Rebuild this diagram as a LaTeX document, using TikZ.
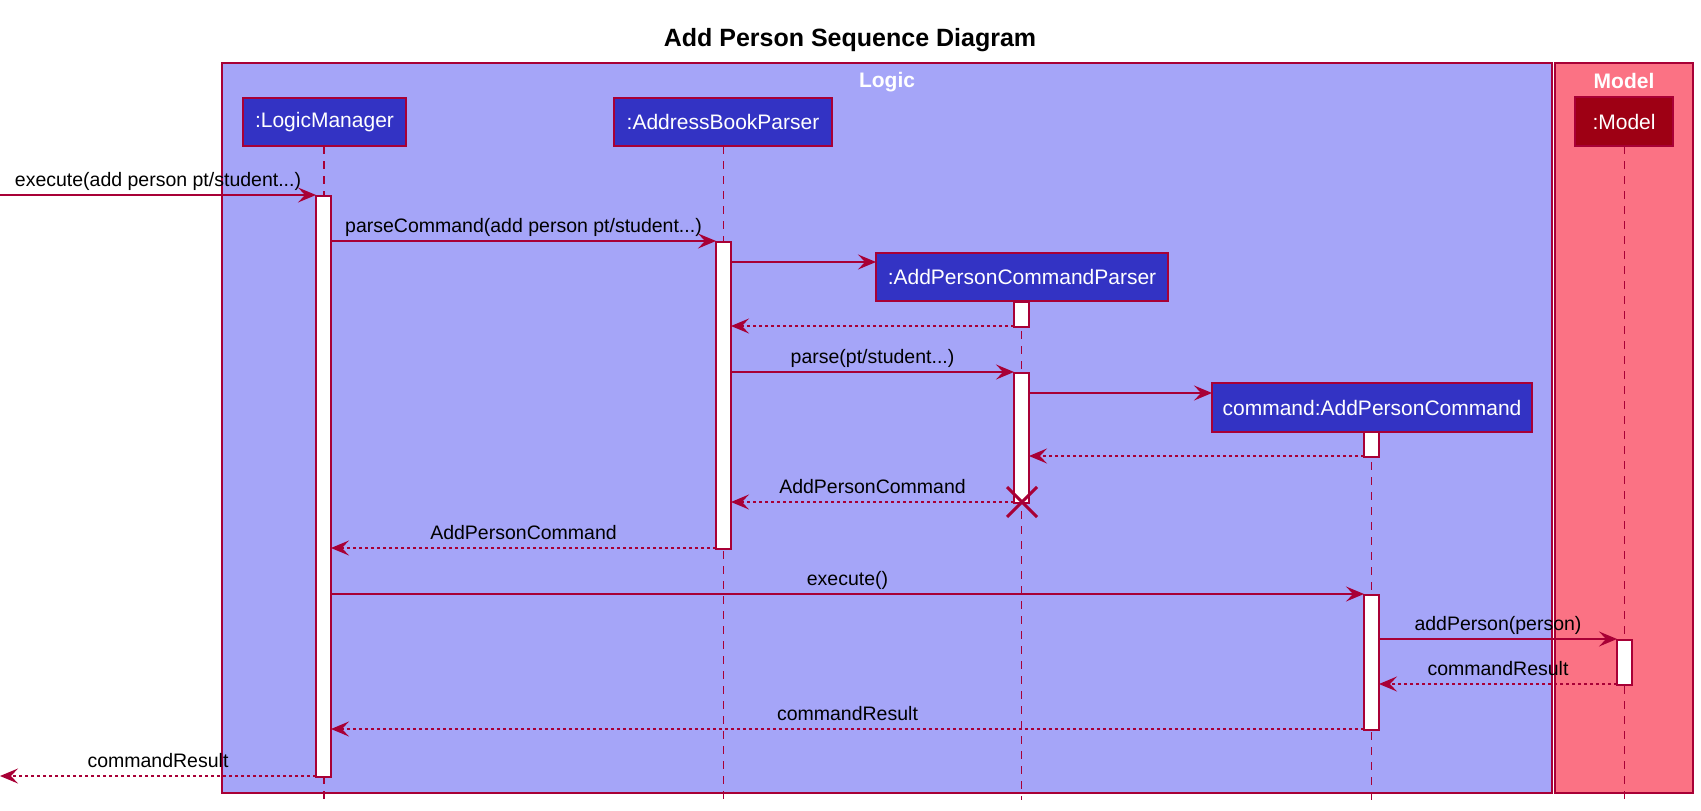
\documentclass[tikz,border=0pt]{standalone}
\usepackage{fontspec}
\setmainfont{Liberation Sans}
\usetikzlibrary{arrows.meta}
\definecolor{brd}{HTML}{A80036}
\definecolor{logicfill}{HTML}{A5A5F8}
\definecolor{modelfill}{HTML}{FB7284}
\definecolor{partfill}{HTML}{3333C4}
\definecolor{modelpart}{HTML}{9E0014}
\begin{document}
\begin{tikzpicture}[x=1pt,y=-1pt,
 groupbox/.style={draw=brd, line width=1.5pt},
 part/.style={draw=brd, line width=2.5pt, fill=partfill, text=white, inner sep=0pt, font=\fontsize{21}{25}\selectfont},
 lifeline/.style={draw=brd, line width=1.5pt, dash pattern=on 7.5pt off 7.5pt},
 actbar/.style={draw=brd, line width=1.5pt, fill=white, inner sep=0pt, minimum width=15pt},
 msg/.style={draw=brd, line width=1.5pt, -{Stealth[length=18pt,width=15pt,inset=7pt]}},
 ret/.style={msg, dash pattern=on 3pt off 3pt},
 lbl/.style={pos=0.5, anchor=base, yshift=9pt, inner sep=0pt, font=\fontsize{19.5}{23}\selectfont, text=black},
 grouptitle/.style={font=\bfseries\fontsize{21}{25}\selectfont, text=white, anchor=base, inner sep=0pt},
 destroy/.style={draw=brd, line width=3pt}
]
\useasboundingbox (0,0) rectangle (1701,811);
% group boxes
\draw[groupbox, fill=logicfill] (222,63) rectangle (1552,793);
\draw[groupbox, fill=modelfill] (1555,63) rectangle (1693,793);
\node[grouptitle] (logict) at (887,87) {Logic};
\node[grouptitle] (modelt) at (1624,88) {Model};
% title
\node[anchor=base, inner sep=0pt, font=\bfseries\fontsize{25}{30}\selectfont] (title) at (850,46) {Add Person Sequence Diagram};
% lifeline ends
\coordinate (lmend) at (324,800);
\coordinate (abpend) at (723.5,800);
\coordinate (apcpend) at (1021.5,800);
\coordinate (cmdend) at (1371.5,800);
\coordinate (modelend) at (1624.5,800);
% lifelines (drawn from the participant positions)
\coordinate (lmtopc) at (324,146);
\coordinate (abptopc) at (723.5,146);
\coordinate (apcptopc) at (1021.5,301);
\coordinate (cmdtopc) at (1371.5,432);
\coordinate (modeltopc) at (1624.5,146);
\draw[lifeline] (lmtopc) -- (lmend);
\draw[lifeline] (abptopc) -- (abpend);
\draw[lifeline] (apcptopc) -- (apcpend);
\draw[lifeline] (cmdtopc) -- (cmdend);
\draw[lifeline] (modeltopc) -- (modelend);
% participants
\node[part, minimum width=163pt, minimum height=48pt] (lm) at (324.5,122) {:LogicManager};
\node[part, minimum width=218pt, minimum height=48pt] (abp) at (723,122) {:AddressBookParser};
\node[part, minimum width=292pt, minimum height=48pt] (apcp) at (1022,277) {:AddPersonCommandParser};
\node[part, minimum width=320pt, minimum height=49pt] (cmd) at (1372,407.5) {command:AddPersonCommand};
\node[part, fill=modelpart, minimum width=98pt, minimum height=49pt] (model) at (1624,121.5) {:Model};
% activation bars
\node[actbar, anchor=north, minimum height=581pt] (lmbar) at (323.5,195) {};
\node[actbar, anchor=north, minimum height=307pt] (abpbar) at (723.5,241) {};
\node[actbar, anchor=north, minimum height=25pt] (apcpbar1) at (1021.5,301) {};
\node[actbar, anchor=north, minimum height=130pt] (apcpbar2) at (1021.5,372) {};
\node[actbar, anchor=north, minimum height=25pt] (cmdbar1) at (1371.5,431) {};
\node[actbar, anchor=north, minimum height=135pt] (cmdbar2) at (1371.5,594) {};
\node[actbar, anchor=north, minimum height=45pt] (modelbar) at (1624.5,639) {};
% message end points
\coordinate (m1s) at (0,195);      \coordinate (m1e) at (316,195);
\coordinate (m2s) at (331,241);    \coordinate (m2e) at (716,241);
\coordinate (m3s) at (731,262);    \coordinate (m3e) at (876,262);
\coordinate (m4s) at (1014,326);   \coordinate (m4e) at (731,326);
\coordinate (m5s) at (731,372);    \coordinate (m5e) at (1014,372);
\coordinate (m6s) at (1029,393);   \coordinate (m6e) at (1212,393);
\coordinate (m7s) at (1364,456);   \coordinate (m7e) at (1029,456);
\coordinate (m8s) at (1014,502);   \coordinate (m8e) at (731,502);
\coordinate (m9s) at (716,548);    \coordinate (m9e) at (331,548);
\coordinate (m10s) at (331,594);   \coordinate (m10e) at (1364,594);
\coordinate (m11s) at (1379,639);  \coordinate (m11e) at (1617,639);
\coordinate (m12s) at (1617,684);  \coordinate (m12e) at (1379,684);
\coordinate (m13s) at (1364,729);  \coordinate (m13e) at (331,729);
\coordinate (m14s) at (316,776);   \coordinate (m14e) at (0,776);
% messages
\draw[msg] (m1s) -- node[lbl] (l1) {execute(add person pt/student...)} (m1e);
\draw[msg] (m2s) -- node[lbl] (l2) {parseCommand(add person pt/student...)} (m2e);
\draw[msg] (m3s) -- (m3e);
\draw[ret] (m4s) -- (m4e);
\draw[msg] (m5s) -- node[lbl] (l5) {parse(pt/student...)} (m5e);
\draw[msg] (m6s) -- (m6e);
\draw[ret] (m7s) -- (m7e);
\draw[ret] (m8s) -- node[lbl] (l8) {AddPersonCommand} (m8e);
\draw[ret] (m9s) -- node[lbl] (l9) {AddPersonCommand} (m9e);
\draw[msg] (m10s) -- node[lbl] (l10) {execute()} (m10e);
\draw[msg] (m11s) -- node[lbl] (l11) {addPerson(person)} (m11e);
\draw[ret] (m12s) -- node[lbl] (l12) {commandResult} (m12e);
\draw[ret] (m13s) -- node[lbl] (l13) {commandResult} (m13e);
\draw[ret] (m14s) -- node[lbl] (l14) {commandResult} (m14e);
% destroy
\coordinate (x1) at (1007,487); \coordinate (x2) at (1037,517);
\coordinate (x3) at (1037,487); \coordinate (x4) at (1007,517);
\draw[destroy] (x1) -- (x2);
\draw[destroy] (x3) -- (x4);
\end{tikzpicture}
\end{document}
